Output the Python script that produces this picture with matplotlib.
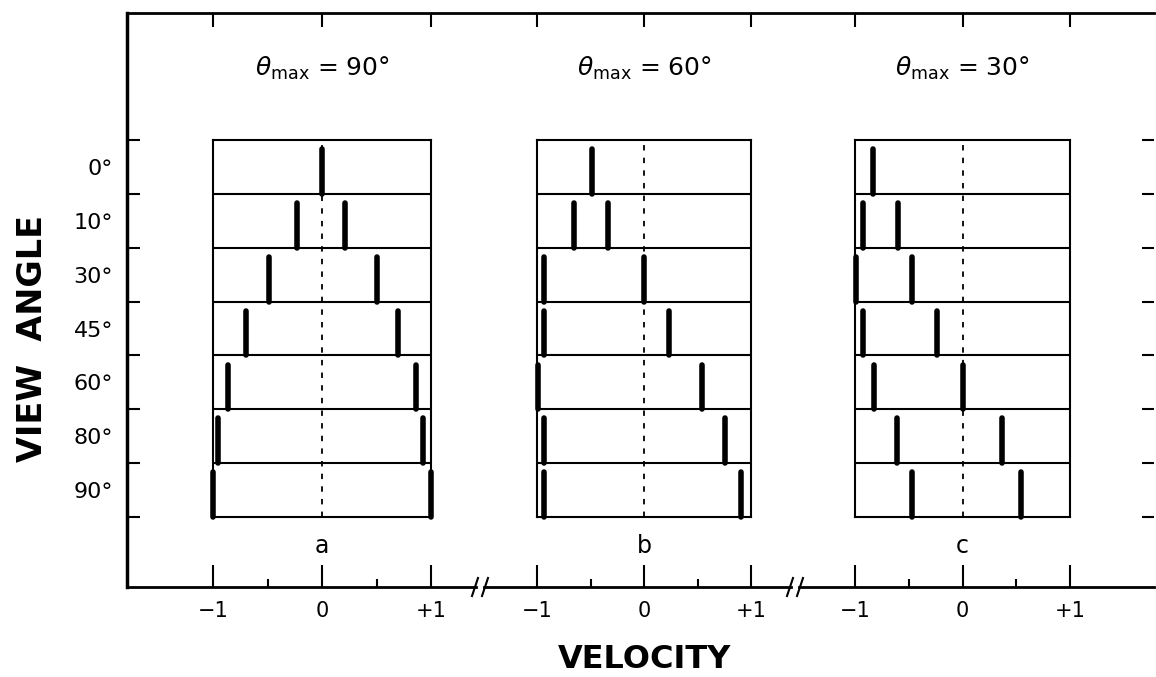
import numpy as np
import matplotlib
matplotlib.use("Agg")
import matplotlib.pyplot as plt

plt.rcParams['font.family'] = ['DejaVu Sans']
plt.rcParams['mathtext.fontset'] = 'dejavusans'

# data
view_angles = ['0°', '10°', '30°', '45°', '60°', '80°', '90°']
theta_max = ['90°', '60°', '30°']
panel_letters = ['a', 'b', 'c']
vel_90 = [[0.0], [-0.23, 0.21], [-0.49, 0.50], [-0.70, 0.70], [-0.86, 0.86], [-0.95, 0.93], [-1.0, 1.0]]
vel_60 = [[-0.49], [-0.65, -0.34], [-0.93, 0.0], [-0.93, 0.23], [-0.99, 0.54], [-0.93, 0.76], [-0.93, 0.91]]
vel_30 = [[-0.83], [-0.93, -0.60], [-0.99, -0.47], [-0.93, -0.24], [-0.82, 0.0], [-0.61, 0.37], [-0.47, 0.54]]
panels = [vel_90, vel_60, vel_30]

W, H = 1156, 677
def fx(px):
	return px / W
def fy(py):
	return 1 - py / H

fig = plt.figure(figsize=(W / 100, H / 100), dpi=100)

# outer frame
frame_l, frame_r, frame_t, frame_b = 127, 1154, 13, 587
row_t, row_b = 140, 517
nrow = len(view_angles)
row_h = (row_b - row_t) / nrow
ax = fig.add_axes([fx(frame_l), fy(frame_b), (frame_r - frame_l) / W, (frame_b - frame_t) / H])
ax.set_facecolor('none')
ax.set_xlim(0, 1)
ax.set_ylim(nrow + (frame_b - row_b) / row_h, -(row_t - frame_t) / row_h)
for s in ['right', 'bottom']:
	ax.spines[s].set_visible(False)
ax.spines['left'].set_linewidth(2.5)
ax.spines['top'].set_linewidth(2.0)
ax.set_xticks([])
ax.set_yticks(np.arange(nrow + 1))
ax.set_yticklabels([])
ax.set_yticks(np.arange(nrow) + 0.5, minor=True)
ax.set_yticklabels(view_angles, minor=True, fontsize=16)
ax.tick_params(axis='y', which='major', direction='in', length=9, width=1.5, left=True, right=True)
ax.tick_params(axis='y', which='minor', length=0, pad=10)

# bottom axis line with two breaks
def afx(px):
	return (px - frame_l) / (frame_r - frame_l)
breaks = [(475, 485), (790, 800)]
xs = [afx(frame_l)]
for b0, b1 in breaks:
	xs += [afx(b0 + 1), afx(b1 - 1)]
xs.append(1.0)
for i in range(0, len(xs), 2):
	ax.plot([xs[i], xs[i + 1]], [0, 0], color='k', lw=2.0, transform=ax.transAxes, clip_on=False)
dy = 9 / (frame_b - frame_t)
for b0, b1 in breaks:
	for bx_ in (b0, b1):
		ax.plot([afx(bx_ - 3), afx(bx_ + 3)], [-dy, dy], color='k', lw=1.5, transform=ax.transAxes, clip_on=False)

# panels
box_x = [(213, 431), (537, 751), (855, 1070)]
for k, vel in enumerate(panels):
	x0, x1 = box_x[k]
	# column axes carrying the velocity ticks
	cax = fig.add_axes([fx(x0), fy(frame_b), (x1 - x0) / W, (frame_b - frame_t) / H])
	cax.set_frame_on(False)
	cax.patch.set_visible(False)
	cax.set_xlim(-1, 1)
	cax.set_yticks([])
	cax.set_xticks([-1, 0, 1])
	cax.set_xticklabels(['−1', '0', '+1'], fontsize=15)
	cax.set_xticks([-0.5, 0.5], minor=True)
	cax.tick_params(axis='x', which='major', direction='in', length=16, width=1.5, pad=10)
	cax.tick_params(axis='x', which='minor', direction='in', length=6, width=1.5)
	sec = cax.secondary_xaxis('top')
	sec.set_xticks([-1, 0, 1])
	sec.set_xticklabels([])
	sec.tick_params(direction='in', length=10, width=1.5)
	sec.spines['top'].set_visible(False)

	# box with spectra
	bx = fig.add_axes([fx(x0), fy(row_b), (x1 - x0) / W, (row_b - row_t) / H])
	bx.set_xlim(-1, 1)
	bx.set_ylim(nrow, 0)
	bx.set_xticks([])
	bx.set_yticks([])
	for s in bx.spines.values():
		s.set_linewidth(1.5)
	bx.hlines(np.arange(1, nrow), -1, 1, color='k', lw=1.5)
	bx.axvline(0, color='k', lw=1.3, ls=(0, (3, 4)))
	for r, vs in enumerate(vel):
		bx.vlines(vs, r + 1, r + 0.17, color='k', lw=4, capstyle='round', clip_on=False)

	cx = (x0 + x1) / 2
	fig.text(fx(cx), fy(68), r'$\theta_{\mathrm{max}}$ = ' + theta_max[k], fontsize=18,
		ha='center', va='center')
	fig.text(fx(cx), fy(546), panel_letters[k], fontsize=17, ha='center', va='center')

fig.text(fx(33), fy(338), 'VIEW  ANGLE', fontsize=24, fontweight='bold', rotation=90,
	ha='center', va='center')
fig.text(fx(645), fy(660), 'VELOCITY', fontsize=23, fontweight='bold', ha='center', va='center')

fig.savefig('out.png', dpi=100)
